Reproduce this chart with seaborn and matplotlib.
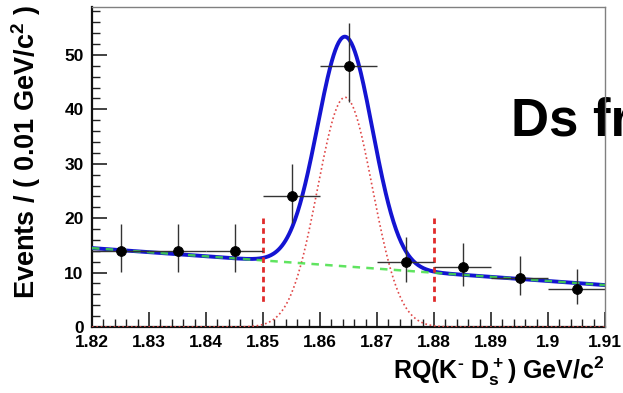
import numpy as np
import pandas as pd
import matplotlib
matplotlib.use("Agg")
import matplotlib.pyplot as plt
from matplotlib.ticker import MultipleLocator
import seaborn as sns

# Binned data: bin centres, counts and asymmetric (Poisson) errors
bin_centres = [1.825, 1.835, 1.845, 1.855, 1.865, 1.875, 1.885, 1.895, 1.905]
counts = [14, 14, 14, 24, 48, 12, 11, 9, 7]
err_low = [3.9, 3.9, 3.9, 4.9, 6.7, 3.7, 3.5, 3.1, 2.8]
err_high = [4.9, 4.9, 4.9, 6.0, 7.8, 4.5, 4.4, 4.0, 3.6]
bin_half_width = 0.005

# Fit result: Gaussian signal on a linear background
sig_amplitude = 42.2
sig_mean = 1.8644
sig_sigma = 0.0048
bkg_at_low = 14.5     # background level at x = 1.82
bkg_at_high = 7.7     # background level at x = 1.91

# Signal window edges
window_edges = [1.85, 1.88]

x_range = (1.82, 1.91)
y_range = (0, 58.8)
x_tick_labels = ["1.82", "1.83", "1.84", "1.85", "1.86", "1.87",
                 "1.88", "1.89", "1.9", "1.91"]

sns.set_theme(style="white")
plt.rcParams["font.family"] = ["Liberation Sans", "DejaVu Sans"]
plt.rcParams["font.weight"] = "bold"
plt.rcParams["text.color"] = "black"
plt.rcParams["xtick.color"] = "black"
plt.rcParams["ytick.color"] = "black"
plt.rcParams["mathtext.fontset"] = "custom"
plt.rcParams["mathtext.bf"] = "Liberation Sans:bold"
plt.rcParams["mathtext.rm"] = "Liberation Sans:bold"
plt.rcParams["mathtext.default"] = "bf"

W, H = 623, 393
fig = plt.figure(figsize=(W / 100, H / 100), dpi=100)
ax = fig.add_axes([92 / W, 1 - 327 / H, (605 - 92) / W, (327 - 7) / H])

xs = np.linspace(x_range[0], x_range[1], 600)
bkg = bkg_at_low + (bkg_at_high - bkg_at_low) * (xs - x_range[0]) / (x_range[1] - x_range[0])
sig = sig_amplitude * np.exp(-0.5 * ((xs - sig_mean) / sig_sigma) ** 2)
curves = pd.DataFrame({"x": xs, "total": bkg + sig, "bkg": bkg, "sig": sig})

# Signal component (red dotted)
sns.lineplot(data=curves, x="x", y="sig", ax=ax, color="#e04848",
             linestyle=(0, (1, 1.6)), linewidth=1.2, zorder=3)
# Total fit (blue)
sns.lineplot(data=curves, x="x", y="total", ax=ax, color="#1414d2",
             linewidth=2.8, zorder=4)
# Background (green dashed)
sns.lineplot(data=curves, x="x", y="bkg", ax=ax, color="#44e044",
             linestyle=(0, (3, 2.5)), linewidth=1.8, zorder=5, alpha=0.85)

# Signal window markers
for xe in window_edges:
    ax.plot([xe, xe], [20, 4.6], color="#e02a2a", linewidth=2.0,
            linestyle=(0, (2, 1.5)), zorder=6)

# Data points with error bars
ax.errorbar(bin_centres, counts, xerr=bin_half_width,
            yerr=[err_low, err_high], fmt="none", ecolor="#333333",
            elinewidth=1.0, capsize=0, zorder=7)
sns.scatterplot(x=bin_centres, y=counts, ax=ax, color="black", s=50,
                edgecolor="black", zorder=8)

ax.set_xlim(*x_range)
ax.set_ylim(*y_range)
ax.set_xlabel("")
ax.set_ylabel("")

ax.xaxis.set_major_locator(MultipleLocator(0.01))
ax.xaxis.set_minor_locator(MultipleLocator(0.002))
ax.yaxis.set_major_locator(MultipleLocator(10))
ax.yaxis.set_minor_locator(MultipleLocator(2))
ax.set_xticks(np.round(np.arange(1.82, 1.9101, 0.01), 2))
ax.set_xticklabels(x_tick_labels)
ax.tick_params(axis="both", which="major", direction="in", length=11,
               width=1.2, color="#222222", labelsize=12.5, pad=6)
ax.tick_params(axis="both", which="minor", direction="in", length=5.5,
               width=1.0, color="#222222")
ax.tick_params(axis="y", which="both", left=True, right=False)
ax.tick_params(axis="x", which="both", bottom=True, top=False)
for lab in ax.get_xticklabels() + ax.get_yticklabels():
    lab.set_fontweight("bold")
    lab.set_color("black")

for side in ["left", "bottom"]:
    ax.spines[side].set_color("#111111")
    ax.spines[side].set_linewidth(1.6)
for side in ["top", "right"]:
    ax.spines[side].set_color("#808080")
    ax.spines[side].set_linewidth(1.0)
    ax.spines[side].set_zorder(10)

fig.text(26 / W, 1 - 152 / H, r"Events / ( 0.01 GeV/c$^2$ )", rotation=90,
         ha="center", va="center", fontsize=19.5, fontweight="bold",
         color="black")
fig.text(605 / W, 1 - 371 / H, r"RQ(K$^{\text{-}}$ D$_s^+$) GeV/c$^2$",
         ha="right", va="center", fontsize=18, fontweight="bold",
         color="black")

ax.text(511 / W, 1 - 135 / H, "Ds fr", transform=fig.transFigure,
        ha="left", va="baseline", fontsize=38, fontweight="bold",
        color="black", clip_on=False, zorder=1)

fig.savefig("out.png", dpi=100)
